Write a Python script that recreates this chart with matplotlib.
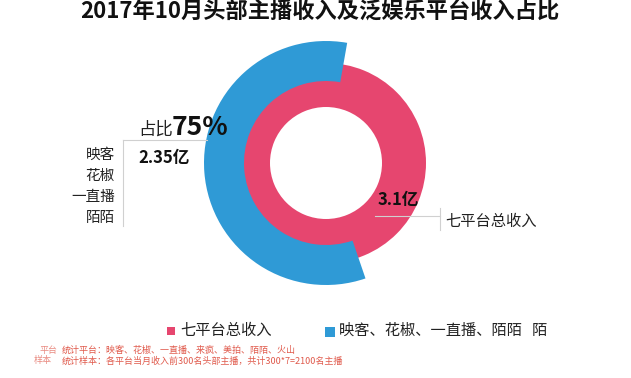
import numpy as np
import matplotlib
matplotlib.use("Agg")
import matplotlib.pyplot as plt

plt.rcParams['font.family'] = ['Noto Sans CJK SC', 'DejaVu Sans']

# data (亿元)
title = "2017年10月头部主播收入及泛娱乐平台收入占比"
total_label = "七平台总收入"
top4_label = "映客、花椒、一直播、陌陌   陌"
top4_names = ["映客", "花椒", "一直播", "陌陌"]
total_income = 3.1
top4_income = 2.35
share_text = "75%"
ring_scale = 4.05   # value of one full turn for the outer ring
notes = ["统计平台：映客、花椒、一直播、来疯、美拍、陌陌、火山",
         "统计样本：各平台当月收入前300名头部主播，共计300*7=2100名主播"]

pink = "#E6466F"
blue = "#2F9AD6"
W, H = 631, 378

fig = plt.figure(figsize=(W / 100, H / 100), dpi=100)
fig.patch.set_facecolor("white")

# donut axes, pixel units, centre at (326,163)
cx, cy, R = 326, 163, 125
ax = fig.add_axes([(cx - R) / W, (H - cy - R) / H, 2 * R / W, 2 * R / H])
ax.pie([total_income], radius=100, colors=[pink], startangle=90,
       wedgeprops=dict(width=44, linewidth=0))
ax.pie([top4_income, ring_scale - top4_income], radius=122,
       colors=[blue, "none"], startangle=80, counterclock=True,
       wedgeprops=dict(width=40, linewidth=0))
ax.set_xlim(-R, R)
ax.set_ylim(-R, R)
ax.set_aspect("equal")
ax.axis("off")

# overlay for texts, pixel coords
ov = fig.add_axes([0, 0, 1, 1])
ov.set_xlim(0, W)
ov.set_ylim(H, 0)
ov.axis("off")
ov.patch.set_alpha(0)

ov.text(W / 2 + 4, 11, title, ha="center", va="center", fontsize=16,
        fontweight="bold", color="#111111")

# left annotation
ov.text(138, 135, "占比", ha="left", va="baseline", fontsize=12.5, color="#222222")
ov.text(172, 135, share_text, ha="left", va="baseline", fontsize=19,
        fontweight="bold", color="#111111")
ov.plot([123, 207], [140, 140], color="#d0d0d0", lw=0.8)
ov.plot([123, 123], [140, 226], color="#d0d0d0", lw=0.8)
ov.text(138, 158, f"{top4_income}亿", ha="left", va="center", fontsize=12,
        fontweight="bold", color="#111111")
for i, name in enumerate(top4_names):
    ov.text(115, 155 + i * 21, name, ha="right", va="center", fontsize=10.5,
            color="#222222")

# right annotation
ov.text(378, 200, f"{total_income}亿", ha="left", va="center", fontsize=12,
        fontweight="bold", color="#111111")
ov.plot([375, 440], [216, 216], color="#d0d0d0", lw=0.8)
ov.plot([440, 440], [208, 230], color="#d0d0d0", lw=0.8)
ov.text(445, 221, total_label, ha="left", va="center", fontsize=11,
        color="#222222")

# legend
ov.scatter([171], [331], marker="s", s=40, color=pink, linewidths=0)
ov.text(180, 330, total_label, ha="left", va="center", fontsize=11, color="#222222")
ov.scatter([330], [332], marker="s", s=45, color=blue, linewidths=0)
ov.text(339, 330, top4_label, ha="left", va="center", fontsize=11, color="#222222")

# footnotes
red = "#E05A4C"
ov.text(40, 350, "平台", ha="left", va="center", fontsize=6.5, color=red, alpha=0.7)
ov.text(62, 350, notes[0], ha="left", va="center", fontsize=6.5, color=red)
ov.text(34, 361, "样本", ha="left", va="center", fontsize=6.5, color=red, alpha=0.7)
ov.text(62, 361, notes[1], ha="left", va="center", fontsize=6.5, color=red)

fig.savefig("out.png", dpi=100, facecolor="white")
